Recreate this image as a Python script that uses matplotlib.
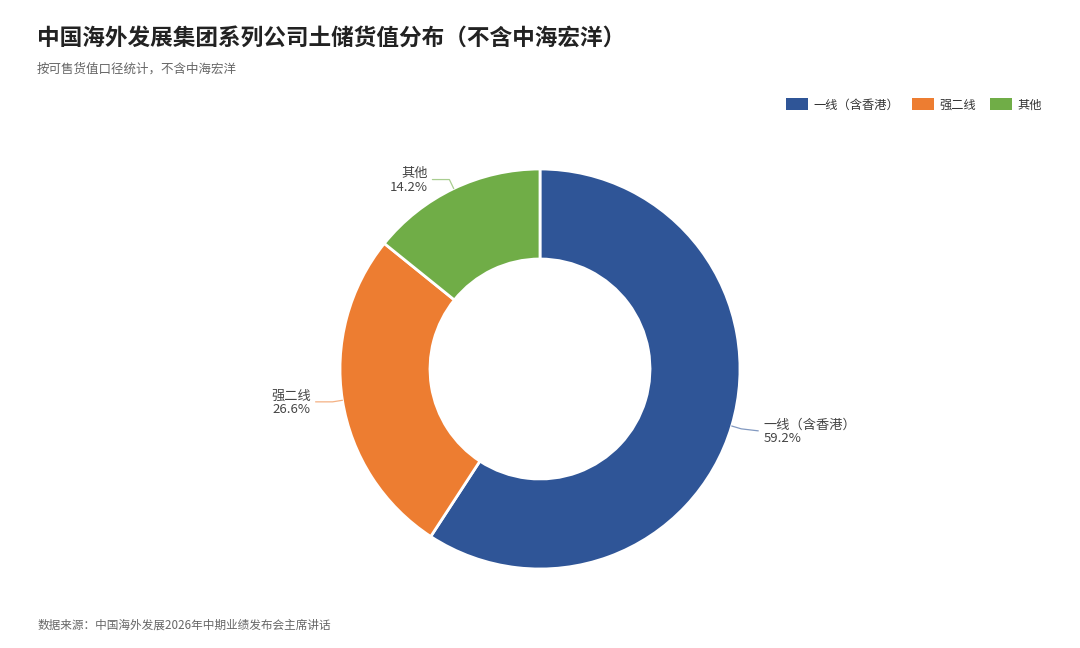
import numpy as np
import matplotlib
matplotlib.use("Agg")
import matplotlib.pyplot as plt

plt.rcParams['font.family'] = ['Noto Sans CJK SC', 'DejaVu Sans']

categories = ['一线（含香港）', '强二线', '其他']
shares = [59.2, 26.6, 14.2]
colors = ['#2F5597', '#ED7D31', '#70AD47']

title = '中国海外发展集团系列公司土储货值分布（不含中海宏洋）'
subtitle = '按可售货值口径统计，不含中海宏洋'
source = '数据来源：中国海外发展2026年中期业绩发布会主席讲话'

W, H = 1080, 648
fig = plt.figure(figsize=(W / 100, H / 100), dpi=100)
ax = fig.add_axes([0, 0, 1, 1])
ax.set_xlim(0, W)
ax.set_ylim(0, H)
ax.set_aspect('equal')
ax.axis('off')

cx, cy = 540, H - 369
R = 200
wedges, _ = ax.pie(shares, colors=colors, startangle=90, counterclock=False,
                   radius=R, center=(cx, cy),
                   wedgeprops=dict(width=R * 0.45, edgecolor='white', linewidth=2))
ax.set_xlim(0, W)
ax.set_ylim(0, H)

# Labels with leader lines
for w, cat, val, col in zip(wedges, categories, shares, colors):
    ang = np.deg2rad((w.theta1 + w.theta2) / 2)
    ca, sa = np.cos(ang), np.sin(ang)
    p0 = (cx + R * ca, cy + R * sa)
    p1 = (cx + (R + 10) * ca, cy + (R + 10) * sa)
    side = 1 if ca >= 0 else -1
    p2 = (p1[0] + side * 17, p1[1] - (2 if side > 0 else 0))
    ax.plot([p0[0], p1[0], p2[0]], [p0[1], p1[1], p2[1]], color=col,
            lw=0.9, alpha=0.6, solid_capstyle='round')
    ax.text(p2[0] + side * 5, p2[1] - 1, f'{cat}\n{val:.1f}%',
            ha='left' if side > 0 else 'right', va='center',
            multialignment='left' if side > 0 else 'right',
            fontsize=9.5, color='#444444', linespacing=1.05)

fig.text(37 / W, 1 - 38 / H, title, fontsize=16.3, fontweight='bold',
         color='#222222', ha='left', va='center')
fig.text(37 / W, 1 - 69 / H, subtitle, fontsize=9, color='#666666',
         ha='left', va='center')
fig.text(37 / W, 1 - 625 / H, source, fontsize=8.4, color='#666666',
         ha='left', va='center')

leg = ax.legend(wedges, categories, loc='center right',
                bbox_to_anchor=(1042 / W, 1 - 105 / H), bbox_transform=fig.transFigure,
                ncol=3, frameon=False, fontsize=8.8, handlelength=1.8,
                handleheight=1.1, columnspacing=1.1, handletextpad=0.45,
                borderaxespad=0, borderpad=0)
for t in leg.get_texts():
    t.set_color('#333333')
for p in leg.get_patches():
    p.set_edgecolor('none')

fig.savefig('out.png', dpi=100, facecolor='white')
